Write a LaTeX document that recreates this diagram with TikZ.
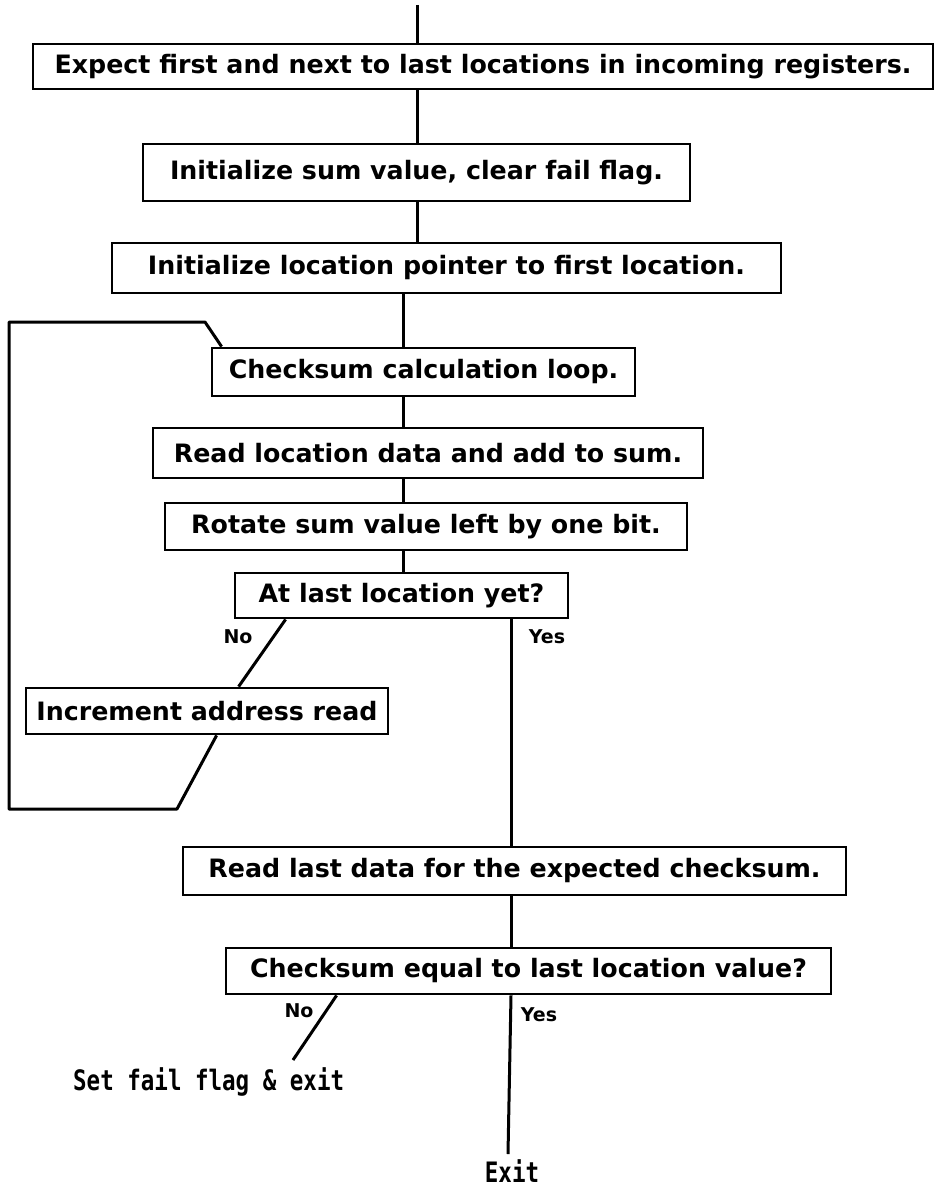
\documentclass[tikz,border=0pt]{standalone}
\usepackage{fontspec}
\setmainfont{DejaVu Sans}
\newfontfamily\plotmono{DejaVu Sans Mono}
\usetikzlibrary{calc}
\newcommand{\tallmono}[1]{\scalebox{1}[1.25]{#1}}
\begin{document}
\begin{tikzpicture}[x=1pt,y=-1pt,
  flowbox/.style={draw, line width=2.8pt, inner sep=0pt,
    font=\bfseries\fontsize{25.3}{30}\selectfont},
  link/.style={line width=3pt},
  branch/.style={font=\bfseries\fontsize{19}{22}\selectfont, inner sep=0pt},
  endtext/.style={font=\plotmono\bfseries\fontsize{22.5}{27}\selectfont, inner sep=0pt}]
\fill[white] (0,0) rectangle (936,1188);
\useasboundingbox (0,0) rectangle (936,1188);

% process boxes, top to bottom
\node[flowbox, minimum width=900pt, minimum height=45pt] (b1) at (483,66.5)
  {Expect first and next to last locations in incoming registers.};
\node[flowbox, minimum width=547pt, minimum height=57pt] (b2) at (416.5,172.5)
  {Initialize sum value, clear fail flag.};
\node[flowbox, minimum width=669pt, minimum height=50pt] (b3) at (446.5,268)
  {Initialize location pointer to first location.};
\node[flowbox, minimum width=423pt, minimum height=48pt] (b4) at (423.5,372)
  {Checksum calculation loop.};
\node[flowbox, minimum width=550pt, minimum height=50pt] (b5) at (428,453)
  {Read location data and add to sum.};
\node[flowbox, minimum width=522pt, minimum height=47pt] (b6) at (426,526.5)
  {Rotate sum value left by one bit.};
\node[flowbox, minimum width=333pt, minimum height=45pt] (b7) at (401.5,595.5)
  {At last location yet?};
\node[flowbox, minimum width=362pt, minimum height=46pt] (inc) at (207,711)
  {Increment address read};
\node[flowbox, minimum width=663pt, minimum height=48pt] (b9) at (514.5,871)
  {Read last data for the expected checksum.};
\node[flowbox, minimum width=605pt, minimum height=46pt] (b10) at (528.5,971)
  {Checksum equal to last location value?};

% branch labels
\node[branch] (no1) at (238,637) {No};
\node[branch] (yes1) at (547,637) {Yes};
\node[branch] (no2) at (299,1011) {No};
\node[branch] (yes2) at (539,1015) {Yes};

% exits
\node[endtext, anchor=west] (fail) at (73,1082) {\tallmono{Set fail flag \& exit}};
\node[endtext, anchor=base] (exit) at (512,1182) {\tallmono{Exit}};

% main flow
\coordinate (top) at (417,5);
\coordinate (spine) at (403,0);
\draw[link] (top) -- (top |- b1.north);
\draw[link] (b1.south -| top) -- (b2.north -| top);
\draw[link] (b2.south -| top) -- (b3.north -| top);
\draw[link] (b3.south -| spine) -- (b4.north -| spine);
\draw[link] (b4.south -| spine) -- (b5.north -| spine);
\draw[link] (b5.south -| spine) -- (b6.north -| spine);
\draw[link] (b6.south -| spine) -- (b7.north -| spine);

% "No" path and loop back
\coordinate (lb) at (177,809);
\coordinate (lbl) at (9,809);
\coordinate (ltl) at (9,322);
\coordinate (ltr) at (205,322);
\draw[link] ($(b7.south west)+(52,0)$) -- ($(inc.north west)+(214,0)$);
\draw[link, line join=round] ($(inc.south west)+(192,0)$) -- (lb) -- (lbl)
  -- (ltl) -- (ltr) -- ($(b4.north west)+(11,0)$);

% "Yes" path
\coordinate (yes) at (511,0);
\draw[link] (b7.south -| yes) -- (b9.north -| yes);
\draw[link] (b9.south -| yes) -- (b10.north -| yes);

% final decision
\coordinate (failend) at (293,1060);
\coordinate (exitend) at (508,1154);
\draw[link] ($(b10.south west)+(112,0)$) -- (failend);
\draw[link] (b10.south -| yes) -- (exitend);
\end{tikzpicture}
\end{document}
